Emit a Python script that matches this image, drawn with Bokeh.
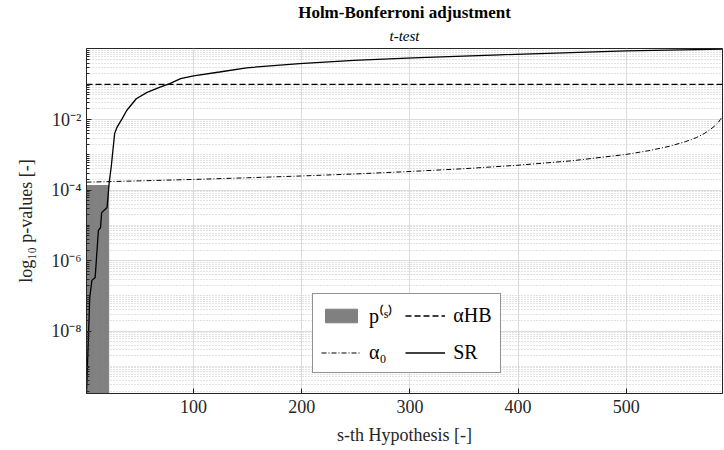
from bokeh.plotting import figure
from bokeh.models import (Range1d, FixedTicker, Legend, LegendItem, Title,
                          CustomJSTickFormatter)
from bokeh.embed import file_html
from bokeh.resources import INLINE

# ---------------- data ----------------
S_LIMITS = [1, 589]
P_LIMITS = [1.7e-10, 1.04]
x_ticks = [100, 200, 300, 400, 500]
y_ticks = [1e-8, 1e-6, 1e-4, 1e-2]

# significant sorted p-values p^(s) (bars)
bar_s = [1, 2, 3, 4, 5, 6, 7, 8, 9, 10, 11, 12, 13, 14, 15, 16, 17, 18, 19, 20, 21]
bar_p = [1.35e-4, 1.35e-4, 1.35e-4, 1.35e-4, 1.35e-4, 1.35e-4, 1.35e-4,
         1.35e-4, 1.35e-4, 1.35e-4, 1.35e-4, 1.35e-4, 1.35e-4, 1.35e-4,
         1.35e-4, 1.35e-4, 1.35e-4, 1.35e-4, 1.35e-4, 1.35e-4, 1.35e-4]

# SR curve
sr_s = [1, 3, 4, 6, 9, 12, 14, 15, 20, 22, 24, 27, 29, 34, 38, 47, 57, 69, 78,
        88, 100, 124, 149, 198, 248, 309, 383, 500, 589]
sr_p = [1.7e-10, 1.05e-8, 9.1e-8, 2.75e-7, 3.3e-7, 7.2e-6, 8.7e-6, 2.3e-5,
        3.2e-5, 1.66e-4, 5.0e-4, 4.0e-3, 5.9e-3, 0.0107, 0.0178, 0.039, 0.059,
        0.083, 0.105, 0.145, 0.174, 0.224, 0.295, 0.389, 0.479, 0.575, 0.69,
        0.89, 1.0]

# alpha_0 threshold curve
a0_s = [1, 50, 100, 150, 200, 250, 300, 350, 400, 450, 500, 520, 540, 555,
        565, 572, 578, 582, 585, 587, 589]
a0_p = [1.68e-4, 1.83e-4, 2.01e-4, 2.24e-4, 2.52e-4, 2.88e-4, 3.37e-4,
        4.05e-4, 5.08e-4, 6.8e-4, 1.03e-3, 1.3e-3, 1.75e-3, 2.38e-3, 3.1e-3,
        4.0e-3, 5.3e-3, 6.7e-3, 8.3e-3, 1.0e-2, 1.25e-2]

# alpha_HB level
alpha_hb = 0.1

# ---------------- figure ----------------
FONT = "Liberation Serif"
DARK = "#262626"

p = figure(width=724, height=450, y_axis_type="log",
           x_range=Range1d(S_LIMITS[0], S_LIMITS[1]),
           y_range=Range1d(P_LIMITS[0], P_LIMITS[1]),
           output_backend="svg", toolbar_location=None,
           min_border_left=86, min_border_right=2,
           min_border_top=47, min_border_bottom=57)
p.title.text = "Holm-Bonferroni adjustment"
p.title.text_font = FONT
p.title.text_font_style = "bold"
p.title.text_font_size = "17px"
p.title.align = "center"
p.title.text_color = "black"
p.title.standoff = 0
p.add_layout(Title(text="t-test", text_font=FONT,
                   text_font_style="italic", text_font_size="15px",
                   align="center", text_color="black", standoff=9), "above")

p.background_fill_color = "white"
p.border_fill_color = "white"
p.outline_line_color = DARK
p.outline_line_width = 1
p.outline_line_alpha = 1

# axes
p.xaxis.ticker = FixedTicker(ticks=x_ticks)
p.xaxis.axis_label = "s-th Hypothesis [-]"
minor = []
for e in range(-11, 1):
    for k in range(1, 10):
        v = k * 10.0 ** e
        if k == 1 and (e % 2 == 0):
            continue
        minor.append(v)
p.yaxis.ticker = FixedTicker(ticks=y_ticks, minor_ticks=minor)
p.yaxis.axis_label = "log\u2081\u2080 p-values [-]"
p.yaxis.formatter = CustomJSTickFormatter(code="""
const e = Math.round(Math.log10(tick));
const m = {'-':'\u207b','0':'\u2070','1':'\u00b9','2':'\u00b2','3':'\u00b3','4':'\u2074','5':'\u2075','6':'\u2076','7':'\u2077','8':'\u2078','9':'\u2079'};
return '10' + String(e).split('').map(c => m[c]).join('');
""")

for ax in (p.xaxis, p.yaxis):
    ax.axis_line_color = DARK
    ax.major_tick_line_color = DARK
    ax.minor_tick_line_color = DARK
    ax.major_tick_in = 5
    ax.major_tick_out = 0
    ax.minor_tick_in = 0
    ax.minor_tick_out = 0
    ax.major_label_text_font = FONT
    ax.major_label_text_font_size = "18px"
    ax.major_label_text_color = DARK
    ax.axis_label_text_font = FONT
    ax.axis_label_text_font_size = "18px"
    ax.axis_label_text_font_style = "normal"
    ax.axis_label_text_color = DARK
p.yaxis.minor_tick_in = 3
p.xaxis.major_label_standoff = 6
p.xaxis.axis_label_standoff = 9
p.yaxis.major_label_standoff = 5
p.yaxis.axis_label_standoff = 12

# grids
p.xgrid.grid_line_color = "#dcdcdc"
p.xgrid.grid_line_width = 1
p.ygrid.grid_line_color = "#dcdcdc"
p.ygrid.grid_line_width = 1
p.ygrid.minor_grid_line_color = "#c4c4c4"
p.ygrid.minor_grid_line_dash = "1 2"
p.ygrid.minor_grid_line_width = 1

# glyphs
r_bar = p.vbar(x=bar_s, top=bar_p, bottom=1e-13, width=1.0,
               fill_color="#808080", line_color="#808080", line_width=1)
r_hb = p.line(x=S_LIMITS, y=[alpha_hb, alpha_hb], line_color="black",
              line_width=1.3, line_dash="6 3")
r_a0 = p.line(x=a0_s, y=a0_p, line_color="black", line_width=1,
              line_dash="5 2 1 2")
r_sr = p.line(x=sr_s, y=sr_p, line_color="black", line_width=1.3)

legend = Legend(items=[
    LegendItem(label="p\u207d\u02e2\u207e", renderers=[r_bar]),
    LegendItem(label="\u03b1\u2080", renderers=[r_a0]),
    LegendItem(label="\u03b1HB", renderers=[r_hb]),
    LegendItem(label="SR", renderers=[r_sr]),
], location=(226, 20), ncols=2)
legend.border_line_color = DARK
legend.border_line_width = 1
legend.background_fill_color = "white"
legend.background_fill_alpha = 1
legend.label_text_font = FONT
legend.label_text_font_size = "20px"
legend.label_text_color = "black"
legend.glyph_width = 40
legend.glyph_height = 17
legend.label_standoff = 8
legend.label_height = 20
legend.spacing = 12
legend.padding = 8
legend.margin = 0
p.add_layout(legend, "center")

open("out.html", "w").write(file_html(p, INLINE))
